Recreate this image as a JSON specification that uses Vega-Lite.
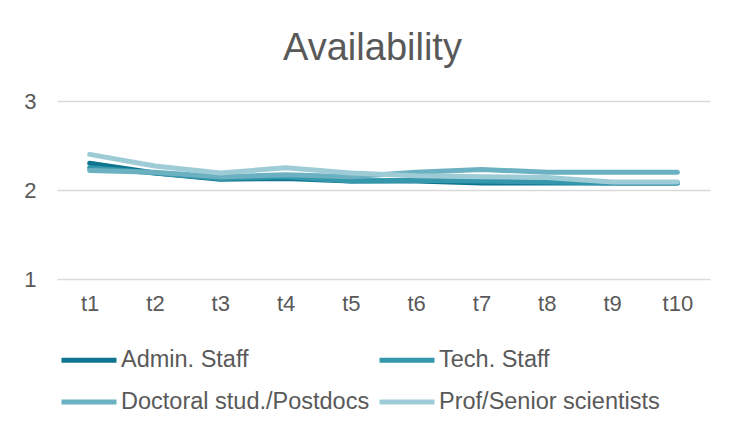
{
  "$schema": "https://vega.github.io/schema/vega-lite/v6.json",
  "width": 653,
  "height": 178,
  "autosize": {"type": "none"},
  "padding": {"left": 57, "top": 101, "right": 21, "bottom": 155},
  "background": "white",
  "title": {
    "text": "Availability",
    "fontSize": 38,
    "font": "Liberation Sans",
    "fontWeight": "normal",
    "color": "#595959",
    "anchor": "middle",
    "frame": "group",
    "dx": -11,
    "offset": 22
  },
  "config": {
    "view": {"stroke": null},
    "font": "Liberation Sans"
  },
  "data": {
    "values": [
      {"t": "t1", "s": "Admin. Staff", "v": 2.30},
      {"t": "t2", "s": "Admin. Staff", "v": 2.19},
      {"t": "t3", "s": "Admin. Staff", "v": 2.12},
      {"t": "t4", "s": "Admin. Staff", "v": 2.13},
      {"t": "t5", "s": "Admin. Staff", "v": 2.10},
      {"t": "t6", "s": "Admin. Staff", "v": 2.10},
      {"t": "t7", "s": "Admin. Staff", "v": 2.08},
      {"t": "t8", "s": "Admin. Staff", "v": 2.08},
      {"t": "t9", "s": "Admin. Staff", "v": 2.08},
      {"t": "t10", "s": "Admin. Staff", "v": 2.08},
      {"t": "t1", "s": "Tech. Staff", "v": 2.25},
      {"t": "t2", "s": "Tech. Staff", "v": 2.19},
      {"t": "t3", "s": "Tech. Staff", "v": 2.13},
      {"t": "t4", "s": "Tech. Staff", "v": 2.15},
      {"t": "t5", "s": "Tech. Staff", "v": 2.10},
      {"t": "t6", "s": "Tech. Staff", "v": 2.11},
      {"t": "t7", "s": "Tech. Staff", "v": 2.10},
      {"t": "t8", "s": "Tech. Staff", "v": 2.09},
      {"t": "t9", "s": "Tech. Staff", "v": 2.08},
      {"t": "t10", "s": "Tech. Staff", "v": 2.08},
      {"t": "t1", "s": "Doctoral stud./Postdocs", "v": 2.22},
      {"t": "t2", "s": "Doctoral stud./Postdocs", "v": 2.20},
      {"t": "t3", "s": "Doctoral stud./Postdocs", "v": 2.15},
      {"t": "t4", "s": "Doctoral stud./Postdocs", "v": 2.17},
      {"t": "t5", "s": "Doctoral stud./Postdocs", "v": 2.15},
      {"t": "t6", "s": "Doctoral stud./Postdocs", "v": 2.20},
      {"t": "t7", "s": "Doctoral stud./Postdocs", "v": 2.23},
      {"t": "t8", "s": "Doctoral stud./Postdocs", "v": 2.20},
      {"t": "t9", "s": "Doctoral stud./Postdocs", "v": 2.20},
      {"t": "t10", "s": "Doctoral stud./Postdocs", "v": 2.20},
      {"t": "t1", "s": "Prof/Senior scientists", "v": 2.40},
      {"t": "t2", "s": "Prof/Senior scientists", "v": 2.27},
      {"t": "t3", "s": "Prof/Senior scientists", "v": 2.19},
      {"t": "t4", "s": "Prof/Senior scientists", "v": 2.25},
      {"t": "t5", "s": "Prof/Senior scientists", "v": 2.19},
      {"t": "t6", "s": "Prof/Senior scientists", "v": 2.16},
      {"t": "t7", "s": "Prof/Senior scientists", "v": 2.15},
      {"t": "t8", "s": "Prof/Senior scientists", "v": 2.14},
      {"t": "t9", "s": "Prof/Senior scientists", "v": 2.09},
      {"t": "t10", "s": "Prof/Senior scientists", "v": 2.09}
    ]
  },
  "mark": {"type": "line", "strokeWidth": 5, "strokeCap": "round", "strokeJoin": "round"},
  "encoding": {
    "x": {
      "field": "t",
      "type": "ordinal",
      "sort": ["t1","t2","t3","t4","t5","t6","t7","t8","t9","t10"],
      "scale": {"type": "point", "padding": 0.5},
      "axis": {
        "title": null,
        "domain": false,
        "ticks": false,
        "grid": false,
        "labelAngle": 0,
        "labelFontSize": 22,
        "labelColor": "#595959",
        "labelPadding": 14
      }
    },
    "y": {
      "field": "v",
      "type": "quantitative",
      "scale": {"domain": [1, 3], "nice": false, "zero": false},
      "axis": {
        "title": null,
        "tickCount": 2,
        "format": "d",
        "labelOverlap": false,
        "labelFlush": false,
        "domain": false,
        "ticks": false,
        "gridColor": "#d9d9d9",
        "gridWidth": 1.3,
        "labelFontSize": 22,
        "labelColor": "#595959",
        "labelPadding": 21
      }
    },
    "color": {
      "field": "s",
      "type": "nominal",
      "sort": ["Admin. Staff", "Tech. Staff", "Doctoral stud./Postdocs", "Prof/Senior scientists"],
      "scale": {
        "domain": ["Admin. Staff", "Tech. Staff", "Doctoral stud./Postdocs", "Prof/Senior scientists"],
        "range": ["#0e7590", "#3597ac", "#6bb1c2", "#9dcbd6"]
      },
      "legend": {
        "title": null,
        "orient": "none",
        "legendX": 2,
        "legendY": 229,
        "direction": "horizontal",
        "columns": 2,
        "columnPadding": -1,
        "rowPadding": -12,
        "padding": 0,
        "symbolType": "stroke",
        "symbolSize": 3025,
        "symbolStrokeWidth": 5,
        "labelOffset": 2,
        "labelFontSize": 23.5,
        "labelColor": "#595959",
        "labelLimit": 400
      }
    },
    "order": {"field": "s"}
  }
}
